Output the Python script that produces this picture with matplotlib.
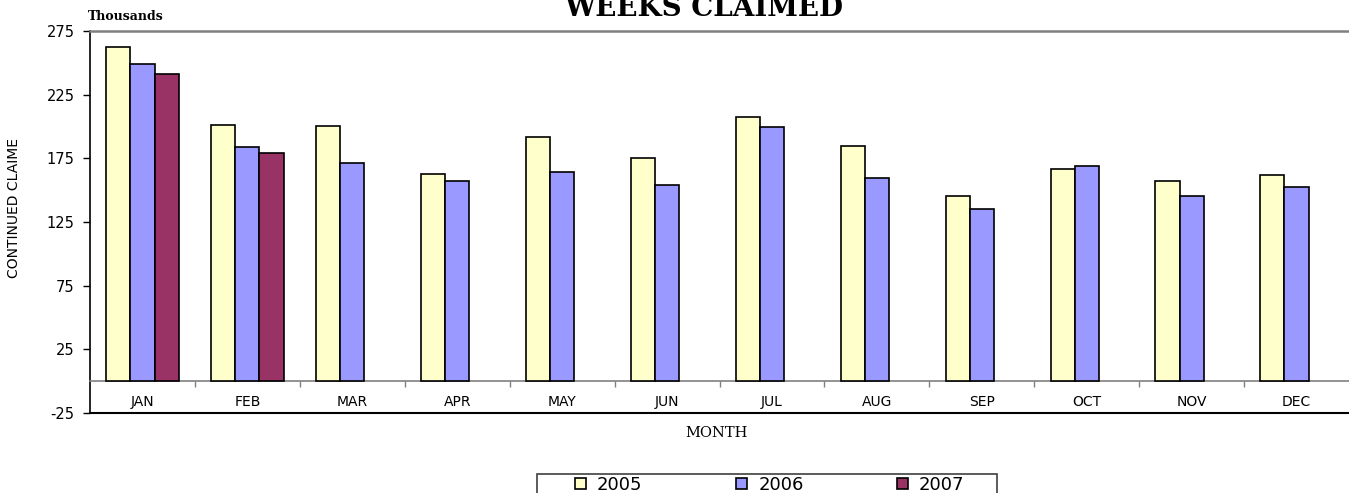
import numpy as np
import matplotlib
matplotlib.use("Agg")
import matplotlib.pyplot as plt
from matplotlib.patches import Rectangle

plt.rcParams['axes.unicode_minus'] = False

# data (thousands of weeks claimed)
months = ['JAN', 'FEB', 'MAR', 'APR', 'MAY', 'JUN',
          'JUL', 'AUG', 'SEP', 'OCT', 'NOV', 'DEC']
claims_2005 = [262.5, 201, 200.3, 162.4, 191.7, 175.2, 207.4, 184.6, 145.6, 166.8, 156.9, 161.8]
claims_2006 = [249.3, 184.1, 171, 156.9, 163.9, 154.2, 199.5, 159.2, 135.1, 168.9, 145.6, 152.6]
claims_2007 = [241.4, 179.3]
years = ['2005', '2006', '2007']
colors = ['#FFFFCC', '#9999FF', '#993366']

fig = plt.figure(figsize=(13.49, 4.93), dpi=100)
ax = fig.add_axes([90 / 1349, 1 - 413 / 493, 1 - 90 / 1349, (413 - 31) / 493])

x = np.arange(len(months))
w = 0.23
series = [claims_2005, claims_2006, claims_2007]
for i, (vals, c, lab) in enumerate(zip(series, colors, years)):
    xs = x[:len(vals)] + (i - 1) * w
    ax.bar(xs, vals, width=w, color=c, edgecolor='black', linewidth=1.2, label=lab, zorder=3)

ax.set_xlim(-0.5, 11.5)
ax.set_ylim(-25, 275)
ax.set_yticks(np.arange(-25, 276, 50))
ax.tick_params(axis='y', direction='out', length=5, width=1, labelsize=10.5, pad=6)

# month labels sit between the zero line and the -25 line
ax.set_xticks(x)
ax.set_xticklabels(months, fontsize=10.5)
ax.set_xticks(np.arange(0.5, 11.5, 1), minor=True)
ax.tick_params(axis='x', which='major', length=0, pad=10)
ax.tick_params(axis='x', which='minor', length=4, width=1, color='#808080', direction='out')

ax.spines['bottom'].set_position(('data', 0))
ax.spines['bottom'].set_color('#808080')
ax.spines['bottom'].set_linewidth(1.2)
ax.spines['top'].set_color('#808080')
ax.spines['top'].set_linewidth(1.8)
ax.spines['right'].set_visible(False)
ax.spines['left'].set_color('black')
ax.spines['left'].set_linewidth(1.2)
ax.axhline(-25, color='black', linewidth=1.5, clip_on=False)

fig.text(704 / 1349, 1 - 16 / 493, 'WEEKS CLAIMED', ha='center', va='baseline',
         fontsize=20, fontweight='bold', family='DejaVu Serif')
fig.text(88 / 1349, 1 - 20 / 493, 'Thousands', ha='left', va='baseline',
         fontsize=9, fontweight='bold', family='DejaVu Serif')
fig.text(14 / 1349, 1 - 208 / 493, 'CONTINUED CLAIME', rotation=90, ha='center', va='center',
         fontsize=10)
fig.text(717 / 1349, 1 - 433 / 493, 'MONTH', ha='center', va='center',
         fontsize=10.5, family='DejaVu Serif')

# legend box runs off the bottom edge, as in the source
fig.patches.append(Rectangle((537 / 1349, -0.05), 460 / 1349, 0.05 + 19 / 493,
                             transform=fig.transFigure, facecolor='white',
                             edgecolor='#404040', linewidth=1.2))
leg = fig.legend(loc='upper center', bbox_to_anchor=(770 / 1349, 1 - 476 / 493),
                 ncol=3, fontsize=13, frameon=False, borderaxespad=0, borderpad=0,
                 handlelength=0.6, handleheight=0.6, handletextpad=0.6, columnspacing=5.2)

fig.savefig('out.png', dpi=100)
